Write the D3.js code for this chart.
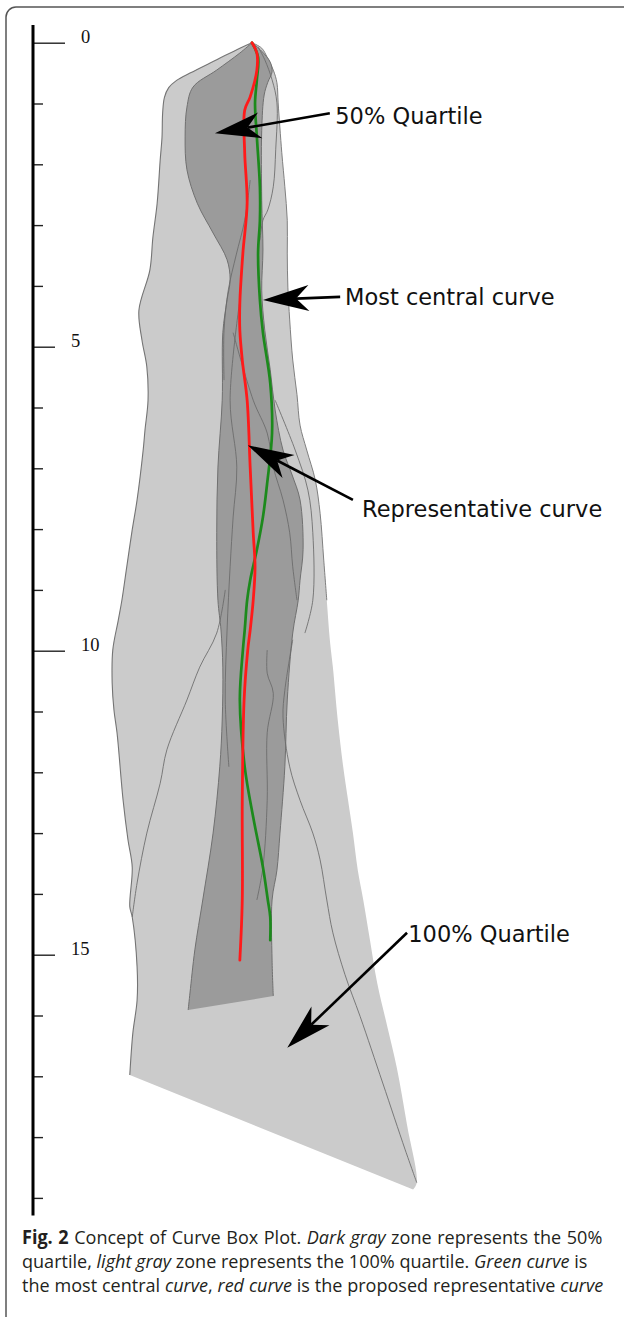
<!DOCTYPE html>
<html>
<head>
<meta charset="utf-8">
<script src="https://cdn.jsdelivr.net/npm/d3@7"></script>
<style>
  html, body { margin: 0; padding: 0; background: #fff; }
  svg { display: block; }
  text { white-space: pre; }
</style>
</head>
<body>
<svg id="fig" width="624" height="1317"></svg>
<script>
// ---- data: [depth, lateral offset] ----
const depthTicks = d3.range(0, 20);
const labelledDepths = [0, 5, 10, 15];

// envelope of every curve (100% zone)
const outerLeft = [
  [0.00,0.00],[0.09,-0.20],[0.28,-0.58],[0.50,-1.02],[0.62,-1.24],[0.74,-1.37],[0.90,-1.44],[1.16,-1.47],
  [1.55,-1.48],[1.93,-1.51],[2.64,-1.56],[3.20,-1.63],[3.74,-1.68],[4.40,-1.86],[4.89,-1.81],
  [5.33,-1.73],[5.88,-1.71],[6.37,-1.76],[6.70,-1.79],[7.52,-1.89],[8.01,-1.97],[8.62,-2.06],
  [9.17,-2.14],[9.50,-2.20],[9.99,-2.29],[10.53,-2.30],[10.98,-2.27],[11.35,-2.22],[12.46,-2.12],
  [13.11,-2.04],[13.56,-1.97],[14.21,-2.01],[14.38,-1.97],[15.20,-1.89],[15.75,-1.89],[16.29,-1.96],
  [16.98,-2.01]
];
const outerRight = [
  [0.00,0.00],[0.09,0.16],[0.24,0.25],[0.45,0.35],[0.66,0.41],[0.99,0.43],[1.81,0.49],[2.37,0.54],
  [2.92,0.58],[3.46,0.58],[4.02,0.59],[4.56,0.62],[5.22,0.67],[5.79,0.74],[6.29,0.79],[6.70,0.90],
  [7.19,1.04],[7.74,1.12],[8.51,1.18],[9.17,1.23],[9.82,1.28],[10.27,1.33],[11.14,1.41],[11.91,1.50],
  [12.46,1.58],[13.00,1.66],[13.61,1.74],[14.10,1.83],[14.76,1.94],[15.47,2.06],[16.16,2.22],
  [16.85,2.38],[17.80,2.55],[18.75,2.71],[18.86,2.65]
];

// central 50% zone
const innerLeft = [
  [0.00,0.00],[0.17,-0.20],[0.45,-0.58],[0.73,-0.97],[1.06,-1.07],[1.55,-1.10],[2.09,-1.07],
  [2.64,-0.90],[3.13,-0.64],[3.57,-0.41],[3.90,-0.36],[4.23,-0.41],[4.77,-0.48],[5.88,-0.49],
  [6.98,-0.56],[8.06,-0.58],[9.17,-0.56],[9.66,-0.51],[10.27,-0.48],[11.14,-0.49],[11.91,-0.53],
  [13.00,-0.64],[14.10,-0.81],[14.92,-0.94],[15.63,-1.02],[15.91,-1.05]
];
const innerRight = [
  [0.00,0.00],[0.14,0.16],[0.32,0.30],[0.48,0.33],[0.65,0.26],[0.86,0.20],[1.44,0.16],[2.59,0.16],
  [3.41,0.18],[4.07,0.16],[4.73,0.21],[5.38,0.30],[6.04,0.38],[6.70,0.51],[7.11,0.66],[7.52,0.79],
  [8.34,0.84],[8.84,0.79],[9.17,0.76],[9.71,0.67],[10.81,0.58],[11.91,0.54],[13.00,0.46],
  [13.61,0.41],[14.10,0.33],[15.09,0.33],[15.68,0.35]
];

// most central curve (green)
const mostCentral = [
  [0.00,0.00],[0.24,0.10],[0.61,0.08],[0.99,0.05],[1.55,0.08],[2.37,0.13],[2.92,0.13],[3.46,0.10],
  [4.23,0.13],[4.77,0.18],[5.60,0.30],[6.42,0.33],[7.24,0.25],[7.80,0.18],[8.34,0.08],[8.84,-0.03],
  [9.17,-0.08],[9.66,-0.12],[9.99,-0.15],[10.81,-0.20],[11.91,-0.12],[12.74,0.02],[13.56,0.18],
  [14.10,0.26],[14.38,0.30],[14.76,0.30]
];
// proposed representative curve (red)
const representative = [
  [0.00,0.00],[0.17,0.08],[0.45,0.08],[0.89,-0.03],[1.11,-0.12],[1.81,-0.12],[2.64,-0.08],
  [3.46,-0.15],[4.28,-0.20],[4.73,-0.20],[5.22,-0.16],[5.88,-0.08],[6.98,-0.03],[8.06,0.02],
  [8.62,0.05],[9.17,0.02],[9.66,-0.03],[9.99,-0.07],[10.81,-0.13],[12.46,-0.16],[14.10,-0.16],
  [15.09,-0.20]
];

// individual member curves
const memberA = [[0.07,0.10],[0.28,0.21],[0.61,0.33],[0.99,0.41],[1.76,0.39],[2.37,0.35],[2.75,0.26],[2.92,0.18],[3.25,0.13]];
const memberB = [[2.26,-0.03],[2.92,-0.12],[3.49,-0.26],[4.07,-0.39],[4.73,-0.46],[5.55,-0.46]];
const memberC = [[4.77,-0.31],[5.88,0.02],[6.42,0.25],[6.98,0.35],[7.52,0.51],[8.06,0.62],[8.62,0.67],[9.17,0.74]];
const memberD = [[4.23,-0.20],[5.88,-0.36],[6.98,-0.25],[7.80,-0.31],[8.62,-0.36],[9.66,-0.41],[10.81,-0.44],[11.91,-0.38]];
const memberE = [[9.00,-0.44],[9.71,-0.58],[10.27,-0.86],[10.81,-1.07],[11.63,-1.40],[12.18,-1.51],[13.00,-1.73],[13.82,-1.89],[14.38,-1.97]];
const memberF = [[5.88,0.38],[6.70,0.71],[7.36,0.92],[8.06,1.00],[9.17,1.00],[9.71,0.87]];
const memberG = [[9.82,0.67],[10.65,0.54],[11.09,0.51],[11.91,0.62],[12.46,0.79],[13.00,1.00],[13.44,1.12],[14.10,1.23],[14.64,1.33],[15.33,1.53],[16.02,1.78],[17.11,2.15],[18.21,2.52],[18.75,2.71]];
const memberH = [[9.99,0.25],[10.37,0.25],[10.70,0.35],[11.35,0.25],[12.46,0.25],[13.56,0.18],[14.10,0.08]];

// call-outs: arrow tip, arrow tail and label anchor as [depth, lateral]
const calloutText = ["50% Quartile", "Most central curve", "Representative curve", "100% Quartile"];
const calloutTip  = [[1.49,-0.61], [4.23,0.18], [6.62,-0.07], [16.53,0.58]];
const calloutTail = [[1.16,1.28],  [4.18,1.45], [7.52,1.66],  [14.64,2.55]];
const calloutAt   = [[1.34,1.37],  [4.31,1.53], [7.80,1.81],  [14.79,2.57]];

// caption, one entry per line: [text, style]
const captionLines = [
  [["Fig. 2", "b"], [" Concept of Curve Box Plot. ", ""], ["Dark gray", "i"], [" zone represents the 50%", ""]],
  [["quartile, ", ""], ["light gray", "i"], [" zone represents the 100% quartile. ", ""], ["Green curve", "i"], [" is", ""]],
  [["the most central ", ""], ["curve", "i"], [", ", ""], ["red curve", "i"], [" is the proposed representative ", ""], ["curve", "i"]]
];

// ---- drawing ----
const svg = d3.select("#fig");

const y = d3.scaleLinear().domain([0, 19]).range([42.7, 1197.9]);
const x = d3.scaleLinear().domain([0, 1]).range([252, 312.8]);

// frame around the figure
svg.append("path")
  .attr("d", "M6,1317 V17 A10,10 0 0 1 16,7 H624")
  .attr("fill", "none").attr("stroke", "#555").attr("stroke-width", 1.5);

const smooth = d3.line().x(p => x(p[1])).y(p => y(p[0])).curve(d3.curveCatmullRom.alpha(0.5));

function ring(left, right) {
  return smooth(left) + smooth(right.slice().reverse()).replace(/^M/, "L") + "Z";
}

const plot = svg.append("g");

// 100% zone
plot.append("path").attr("d", ring(outerLeft, outerRight)).attr("fill", "#cbcbcb");
plot.append("path").attr("d", smooth(outerLeft))
  .attr("fill", "none").attr("stroke", "#747474").attr("stroke-width", 1.1);
plot.append("path").attr("d", smooth(outerRight.filter(p => p[0] <= 9.2)))
  .attr("fill", "none").attr("stroke", "#808080").attr("stroke-width", 1);

// 50% zone
plot.append("path").attr("d", ring(innerLeft, innerRight)).attr("fill", "#9b9b9b");
[innerLeft, innerRight].forEach(edge => {
  plot.append("path").attr("d", smooth(edge))
    .attr("fill", "none").attr("stroke", "#707070").attr("stroke-width", 1);
});

// member curves
[memberA, memberB, memberC, memberD, memberE, memberF, memberG, memberH].forEach(c => {
  plot.append("path").attr("d", smooth(c))
    .attr("fill", "none").attr("stroke", "#6a6a6a").attr("stroke-width", 1).attr("opacity", 0.85);
});

// highlighted curves
plot.append("path").attr("d", smooth(mostCentral))
  .attr("fill", "none").attr("stroke", "#1c8a1c").attr("stroke-width", 2.7)
  .attr("stroke-linecap", "round").attr("stroke-linejoin", "round");
plot.append("path").attr("d", smooth(representative))
  .attr("fill", "none").attr("stroke", "#ff1a1a").attr("stroke-width", 2.8)
  .attr("stroke-linecap", "round").attr("stroke-linejoin", "round");

// depth axis
const axisX = 33;
const axis = svg.append("g").attr("transform", `translate(${axisX},0)`)
  .call(d3.axisRight(y).tickValues(depthTicks).tickSize(10).tickFormat(""));
axis.select(".domain").remove();
axis.selectAll(".tick line")
  .attr("stroke", "#222").attr("stroke-width", 1.4)
  .attr("x2", d => d % 10 === 0 ? 32 : (d % 5 === 0 ? 22 : 10));
svg.append("line")
  .attr("x1", axisX).attr("x2", axisX)
  .attr("y1", y(-0.29)).attr("y2", y(19.29))
  .attr("stroke", "#000").attr("stroke-width", 3);
svg.append("g").selectAll("text").data(labelledDepths).join("text")
  .attr("x", d => axisX + (d % 10 === 0 ? 32 : 22) + 16)
  .attr("y", d => y(d))
  .attr("font-family", "Liberation Serif")
  .attr("font-size", 18.5)
  .attr("fill", "#111")
  .text(d => d);

// call-out arrows
const headLen = 46, headHalf = 13, notch = 0.72;
const callouts = svg.append("g");
calloutText.forEach((label, i) => {
  const tx = x(calloutTip[i][1]), ty = y(calloutTip[i][0]);
  const sx = x(calloutTail[i][1]), sy = y(calloutTail[i][0]);
  const ang = Math.atan2(ty - sy, tx - sx) * 180 / Math.PI;
  const len = Math.hypot(tx - sx, ty - sy);
  const g = callouts.append("g").attr("transform", `translate(${tx},${ty}) rotate(${ang})`);
  g.append("line")
    .attr("x1", -len).attr("y1", 0).attr("x2", -headLen * notch).attr("y2", 0)
    .attr("stroke", "#000").attr("stroke-width", 2.6);
  g.append("path")
    .attr("d", `M0,0 L${-headLen},${-headHalf} L${-headLen * notch},0 L${-headLen},${headHalf} Z`)
    .attr("fill", "#000");
  callouts.append("text")
    .attr("x", x(calloutAt[i][1])).attr("y", y(calloutAt[i][0]))
    .attr("font-family", "DejaVu Sans").attr("font-size", 22.5).attr("fill", "#111")
    .text(label);
});

// caption: a slightly condensed, justified paragraph
const capX = 22, capBase = [1244, 1268, 1292], capEnd = [603, 588, 604];
const capSize = 19;
const cap = svg.append("g").attr("font-family", "Open Sans").attr("fill", "#231f20");
const capNodes = captionLines.map((segs, i) => {
  const t = cap.append("text").attr("x", 0).attr("y", 0).attr("font-size", capSize);
  segs.forEach(([s, st]) => {
    t.append("tspan").text(s)
      .attr("font-weight", st === "b" ? 700 : 400)
      .attr("font-style", st === "i" ? "italic" : "normal");
  });
  return t;
});
const sxCap = (capEnd[1] - capX) / capNodes[1].node().getComputedTextLength();
capNodes.forEach((t, i) => {
  const w = t.node().getComputedTextLength();
  const spaces = captionLines[i].map(s => s[0]).join("").split(" ").length - 1;
  t.attr("word-spacing", ((capEnd[i] - capX) / sxCap - w) / spaces)
   .attr("transform", `translate(${capX},${capBase[i]}) scale(${sxCap},1)`);
});
</script>
</body>
</html>
